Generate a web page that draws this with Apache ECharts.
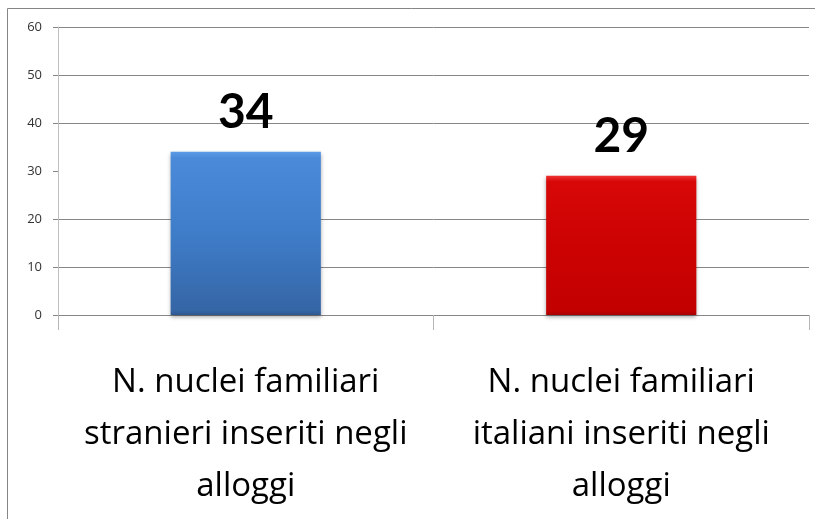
<!DOCTYPE html>
<html>
<head>
<meta charset="utf-8">
<script src="https://cdn.jsdelivr.net/npm/echarts@6/dist/echarts.min.js"></script>
<style>
html,body{margin:0;padding:0;background:#fff;}
#chart{width:815px;height:519px;}
</style>
</head>
<body>
<div id="chart"></div>
<script>
const categories = [
  'N. nuclei familiari\nstranieri inseriti negli\nalloggi',
  'N. nuclei familiari\nitaliani inseriti negli\nalloggi'
];
const values = [34, 29];
const yTicks = [0, 10, 20, 30, 40, 50, 60];

const barColors = [
  new echarts.graphic.LinearGradient(0, 0, 0, 1, [
    {offset: 0, color: '#5b9ae6'},
    {offset: 0.04, color: '#4a8ad9'},
    {offset: 0.5, color: '#3f7dc9'},
    {offset: 0.97, color: '#3566a6'},
    {offset: 1, color: '#2c5890'}
  ]),
  new echarts.graphic.LinearGradient(0, 0, 0, 1, [
    {offset: 0, color: '#ee3333'},
    {offset: 0.04, color: '#d80808'},
    {offset: 0.5, color: '#cc0202'},
    {offset: 0.97, color: '#c20000'},
    {offset: 1, color: '#a80000'}
  ])
];

const chart = echarts.init(document.getElementById('chart'), null, {renderer: 'canvas'});
const gridColor = '#878787';
chart.setOption({
  animation: false,
  backgroundColor: '#ffffff',
  grid: {left: 58, right: 6, top: 27, bottom: 204, containLabel: false},
  xAxis: {
    type: 'category',
    data: categories,
    axisLine: {show: true, lineStyle: {color: gridColor, width: 1}},
    axisTick: {show: true, alignWithLabel: false, length: 15, lineStyle: {color: '#b5b5b5'}},
    axisLabel: {
      interval: 0,
      margin: 42,
      fontFamily: 'Open Sans',
      fontSize: 33,
      lineHeight: 52,
      color: '#000000'
    }
  },
  yAxis: {
    type: 'value',
    min: yTicks[0],
    max: yTicks[yTicks.length - 1],
    interval: 10,
    axisLine: {show: true, lineStyle: {color: '#c0c0c0'}},
    axisTick: {show: true, length: 5, lineStyle: {color: gridColor}},
    axisLabel: {
      margin: 16,
      fontFamily: 'Open Sans',
      fontSize: 13,
      color: '#333333'
    },
    splitLine: {
      show: true,
      lineStyle: {color: [gridColor, gridColor, gridColor, 'rgba(0,0,0,0)', gridColor, gridColor, gridColor], width: 1}
    }
  },
  series: [{
    type: 'bar',
    barWidth: '40%',
    data: values.map((v, i) => ({
      value: v,
      itemStyle: {
        color: barColors[i],
        shadowColor: 'rgba(0,0,0,0.35)',
        shadowBlur: 4,
        shadowOffsetY: 2
      }
    })),
    label: {
      show: true,
      position: 'top',
      distance: 15,
      fontFamily: 'Lato',
      fontWeight: 'bold',
      fontSize: 48,
      color: '#000000'
    }
  }],
  graphic: [
    {type: 'line', silent: true, shape: {x1: 7.5, y1: 8.5, x2: 815, y2: 8.5}, style: {stroke: '#868686', lineWidth: 1}},
    {type: 'line', silent: true, shape: {x1: 7.5, y1: 8.5, x2: 7.5, y2: 519}, style: {stroke: '#868686', lineWidth: 1}}
  ]
});
</script>
</body>
</html>
